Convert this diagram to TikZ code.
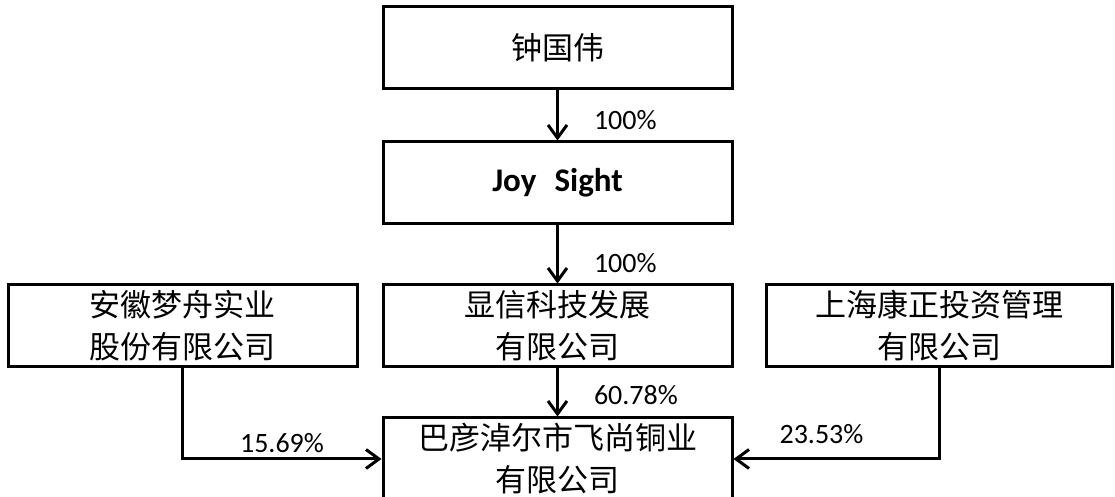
\documentclass[tikz,border=0pt]{standalone}
\usepackage{fontspec}
\setmainfont{Carlito}
\newfontfamily\cjk{Noto Sans CJK SC}
\usetikzlibrary{arrows.meta}

\begin{document}
\begin{tikzpicture}[x=0.5pt,y=-0.5pt,
	box/.style={draw, line width=1.5pt, minimum width=174.5pt, minimum height=41pt, inner sep=0pt, align=center, font=\cjk\fontsize{15.5}{21}\selectfont},
	link/.style={line width=1.5pt, -{Straight Barb[length=6.5pt,width=9.5pt,line width=1.5pt]}},
	pct/.style={font=\fontsize{14}{16}\selectfont, inner sep=0pt}]
			\useasboundingbox (0,0) rectangle (1115,497);
			% boxes
			\node[box] (zhong) at (557.5,47.5) {钟国伟};
			\node[box, font=\bfseries\fontsize{16.5}{21}\selectfont] (joy) at (557.5,183) {Joy\hspace{0.55em}Sight};
			\node[box] (xianxin) at (557.5,326) {显信科技发展\\有限公司};
			\node[box] (mengzhou) at (182.5,326) {安徽梦舟实业\\股份有限公司};
			\node[box, minimum width=173pt] (kangzheng) at (939.5,326) {上海康正投资管理\\有限公司};
			\node[box] (feishang) at (557.5,459) {巴彦淖尔市飞尚铜业\\有限公司};
			% shares
			\draw[link] (zhong) -- node[pct, pos=0.6, right=17.5pt] {100\%} (joy);
			\draw[link] (joy) -- node[pct, pos=0.65, right=17.5pt] {100\%} (xianxin);
			\draw[link] (xianxin) -- node[pct, pos=0.55, right=17.5pt] {60.78\%} (feishang);
			\draw[link] (mengzhou) |- node[pct, pos=0.75, above=2.5pt] {15.69\%} (feishang);
			\draw[link] (kangzheng) |- node[pct, pos=0.75, above=7pt, xshift=-7.5pt] {23.53\%} (feishang);
\end{tikzpicture}
\end{document}
